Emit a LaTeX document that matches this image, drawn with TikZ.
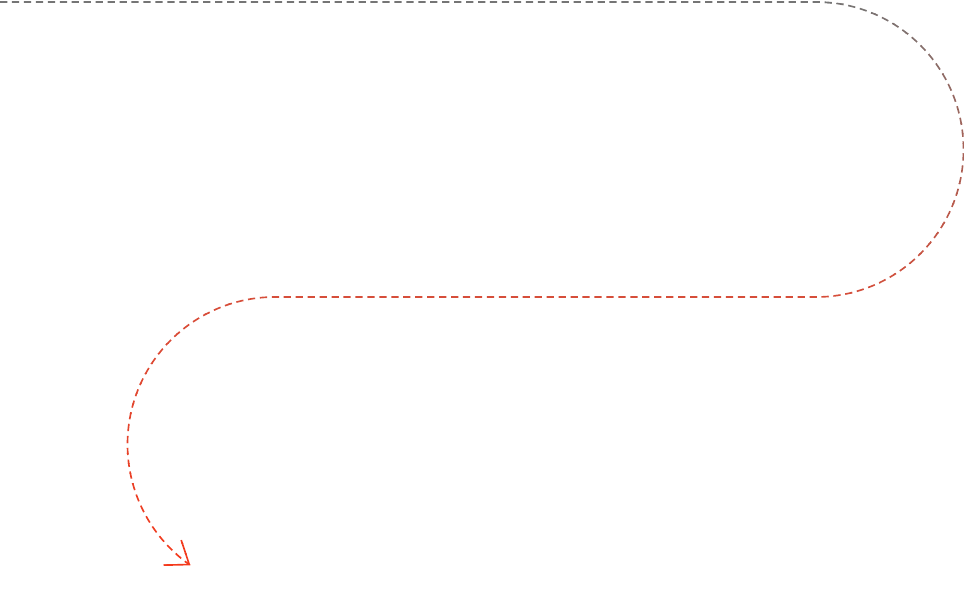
\documentclass[tikz,border=0pt]{standalone}
\usepackage{tikz}
\usetikzlibrary{arrows.meta, bending}
\definecolor{trailgrey}{RGB}{117,117,117}
\definecolor{trailmid}{RGB}{214,78,58}
\definecolor{trailend}{RGB}{246,56,26}
\tikzset{
  trail/.style={line width=1.4pt, dash pattern=on 6.2pt off 4pt, -{Straight Barb[length=0.62cm, width=0.92cm, flex=1.8]}},
}
\newcommand{\trailpath}{(start) -- (bendA) arc[start angle=90, end angle=-90, radius=147.5] -- (bendB) arc[start angle=90, end angle=235, radius=147.5]}

\begin{document}
\begin{tikzpicture}[x=0.03cm, y=0.03cm]
\useasboundingbox (0,0) rectangle (964,594);

% turning points of the trail
\coordinate (start) at (0,592);
\coordinate (bendA) at (816,592);
\coordinate (bendB) at (275,297);

% upper half: grey fading to red-brown
\foreach \k in {0,...,30}{
  \pgfmathtruncatemacro\pct{round(\k/30*100)}
  \begin{scope}
    \clip (-20,{590-10*\k}) rectangle (1000,{600-10*\k});
    \draw[trail, color=trailmid!\pct!trailgrey] \trailpath;
  \end{scope}
}

% lower half: red-brown to bright red
\foreach \k in {0,...,28}{
  \pgfmathtruncatemacro\pct{round((\k+1)/29*100)}
  \begin{scope}
    \clip (-20,{280-10*\k}) rectangle (1000,{290-10*\k});
    \draw[trail, color=trailend!\pct!trailmid] \trailpath;
  \end{scope}
}
\end{tikzpicture}
\end{document}
